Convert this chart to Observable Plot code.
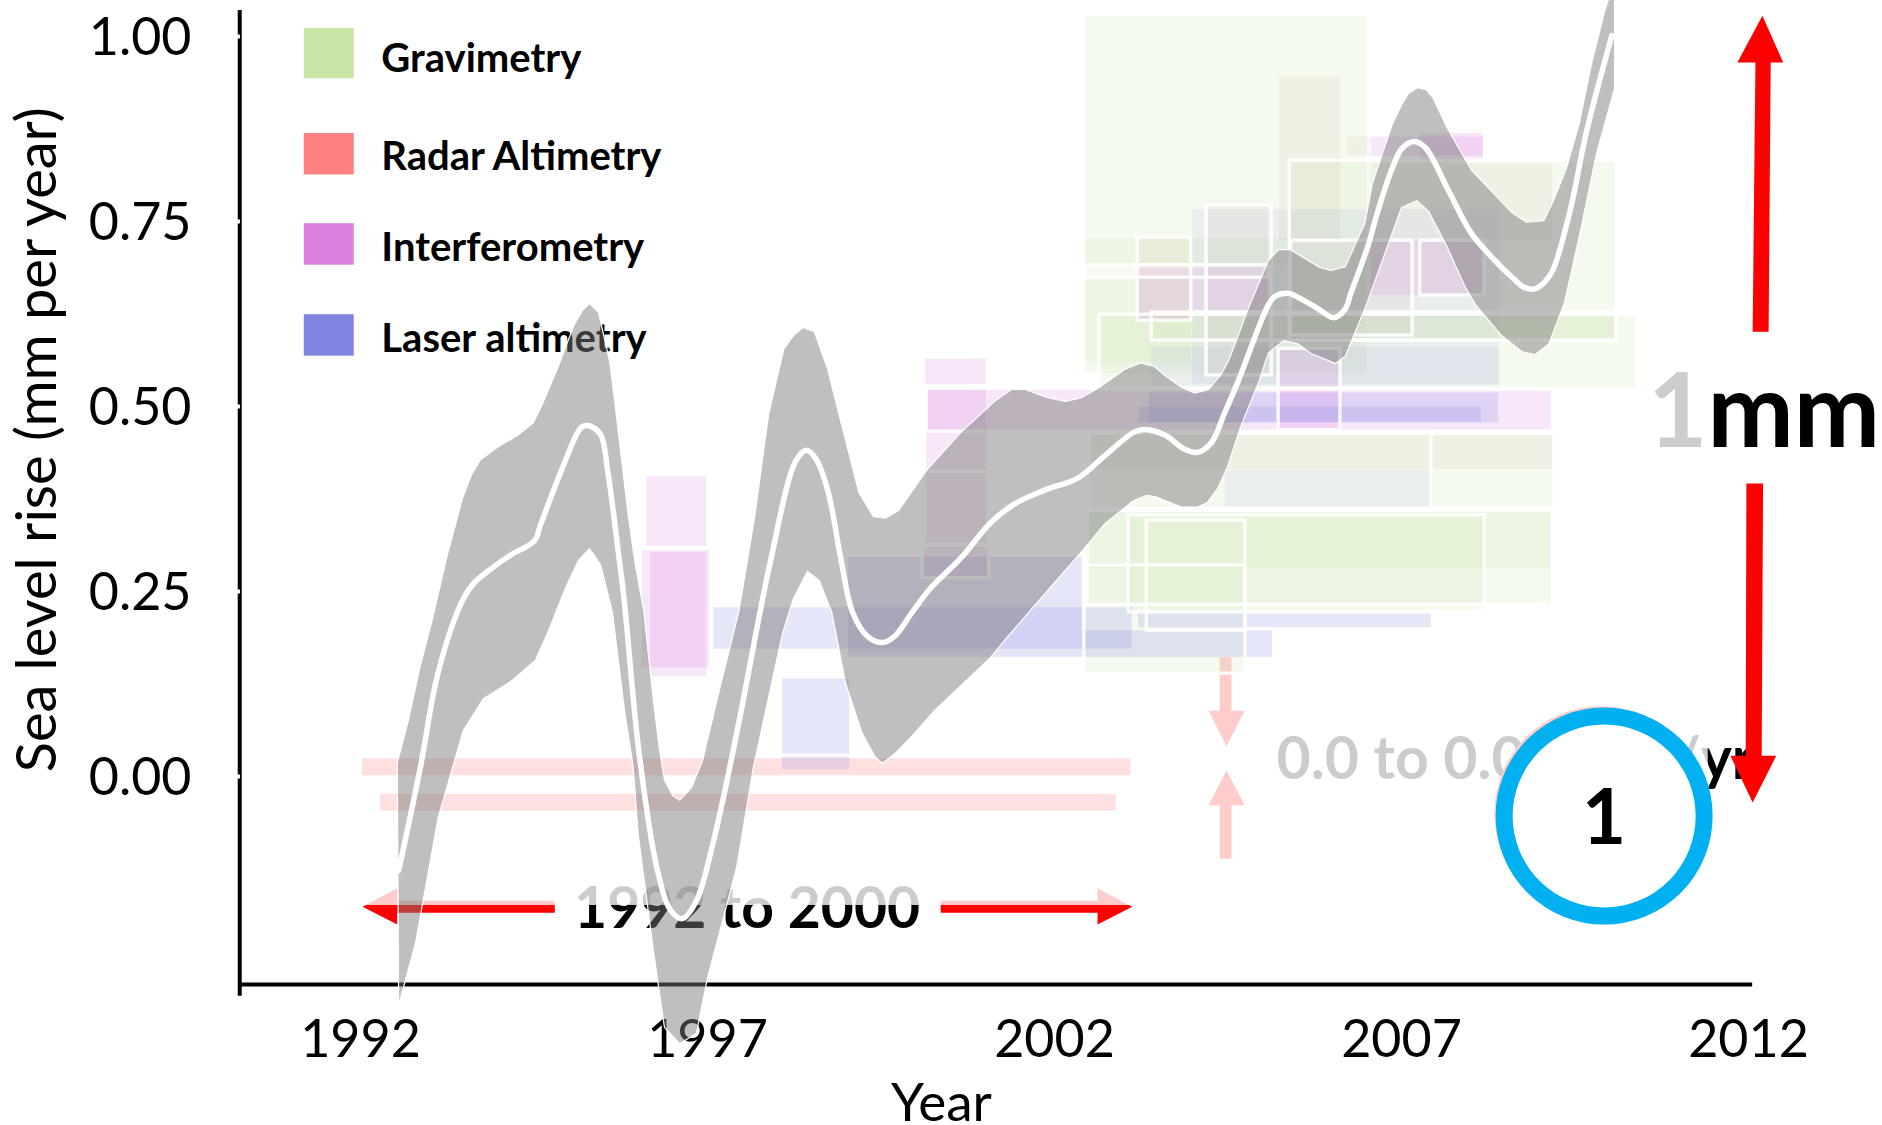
<!DOCTYPE html>
<html><head><meta charset="utf-8">
<script src="https://cdn.jsdelivr.net/npm/d3@7"></script>
<script src="https://cdn.jsdelivr.net/npm/@observablehq/plot@0.6"></script>
<style>html,body{margin:0;padding:0;background:#fff}svg{display:block}</style>
</head><body><div id="chart"></div>
<script>
const methods = ["Gravimetry","Radar Altimetry","Interferometry","Laser altimetry"];
const methodColors = ["#c8e6a5","#ff8080","#dc80e0","#8084e0"];
const xTicks = [1992,1997,2002,2007,2012];
const yTicks = [0,0.25,0.5,0.75,1];

// [year start, year end, top value, bottom value]
const gravimetry = [
 [2002.45,2006.50,1.027,.545],[2002.45,2005.40,.727,.691],[2002.45,2003.97,.672,.559],
 [2002.65,2010.40,.624,.523],[2003.40,2010.10,.627,.589],[2005.39,2010.10,.830,.589],
 [2002.48,2009.18,.359,.232],[2002.48,2009.18,.359,.281],[2003.07,2008.20,.353,.222],
 [2002.43,2004.75,.285,.139],[2002.48,2009.18,.461,.364]];
const radar = [
 [2002.53,2009.18,.461,.415],[2003.20,2003.97,.728,.616],[2004.22,2005.08,.772,.542],
 [2005.24,2006.12,.945,.724],[2006.57,2009.18,.828,.724],[2006.22,2006.57,.864,.838],
 [2007.27,2008.20,.724,.650],[2005.41,2007.16,.724,.596]];
const interferometry = [
 [2000.16,2009.18,.524,.466],[2000.14,2001.02,.564,.530],[2000.16,2001.02,.524,.414],
 [2000.16,2001.02,.409,.315],[2000.10,2001.06,.312,.268],[1996.12,1996.99,.405,.311],
 [1996.06,1997.03,.305,.147],[1996.18,1996.99,.303,.135],[2006.57,2008.18,.864,.838],
 [2007.27,2008.18,.869,.832],[2004.22,2005.08,.687,.630],[2003.99,2004.19,.687,.630],
 [2003.20,2003.97,.687,.616],[2005.23,2006.12,.578,.468],[2006.57,2008.18,.724,.650]];
const laser = [
 [1997.09,2003.12,.228,.172],[1999.03,2002.40,.296,.161],[2002.40,2005.14,.197,.161],
 [2003.21,2007.43,.220,.201],[1998.08,1999.05,.132,.030],[1998.08,1999.05,.026,.009],
 [2003.37,2008.40,.518,.478],[2003.22,2008.15,.499,.478]];
const laserFaint = [
 [2003.99,2008.41,.766,.530],[2004.46,2007.43,.414,.364],[2003.40,2008.41,.580,.527]];
const outlined = [
 [2002.45,2005.08,.691,.674],[2003.20,2003.97,.728,.616],[2004.19,2005.13,.772,.542],
 [2005.39,2010.10,.832,.589],[2003.40,2010.10,.627,.589],[2002.50,2007.43,.465,.359],
 [2003.07,2008.20,.353,.222],[2002.43,2004.75,.285,.139],[2003.33,2004.75,.346,.197],
 [2000.10,2001.06,.312,.268],[2002.65,2010.40,.624,.523],[2005.23,2006.12,.578,.468],
 [2007.27,2008.20,.724,.650],[2005.41,2007.16,.724,.596],[2000.16,2009.18,.524,.466],
 [2002.48,2009.18,.359,.232]];

const upperYears = [1992.53,1992.69,1992.86,1993.04,1993.24,1993.47,1993.60,1993.73,1993.99,1994.28,1994.49,1994.62,1994.85,1995.08,1995.20,1995.30,1995.43,1995.59,1995.69,1995.78,1995.86,1995.95,1996.08,1996.22,1996.31,1996.38,1996.50,1996.60,1996.77,1996.93,1997.19,1997.45,1997.68,1997.88,1998.10,1998.24,1998.38,1998.54,1998.73,1998.92,1999.18,1999.39,1999.56,1999.75,2000.16,2000.65,2001.15,2001.38,2001.58,2001.90,2002.16,2002.39,2002.65,2003.01,2003.24,2003.44,2003.59,2003.83,2004.02,2004.22,2004.39,2004.51,2004.80,2005.08,2005.23,2005.40,2005.82,2005.98,2006.19,2006.47,2006.58,2006.87,2007.01,2007.10,2007.23,2007.36,2007.46,2007.66,2008.01,2008.59,2008.80,2009.05,2009.18,2009.38,2009.56,2009.74,2009.93,2010.07];
const upperValues = [0.018,0.076,0.149,0.214,0.295,0.376,0.408,0.428,0.446,0.462,0.478,0.503,0.554,0.611,0.630,0.639,0.627,0.561,0.486,0.414,0.351,0.292,0.224,0.103,0.035,-0.005,-0.026,-0.032,-0.015,0.022,0.124,0.222,0.351,0.489,0.578,0.596,0.607,0.601,0.551,0.480,0.384,0.351,0.349,0.359,0.414,0.465,0.508,0.523,0.523,0.512,0.507,0.512,0.526,0.550,0.559,0.554,0.542,0.526,0.518,0.523,0.542,0.562,0.634,0.697,0.712,0.712,0.688,0.684,0.689,0.747,0.801,0.882,0.909,0.923,0.931,0.928,0.916,0.876,0.819,0.762,0.749,0.751,0.776,0.823,0.882,0.964,1.035,1.076];
const lowerYears = [1992.55,1992.79,1993.12,1993.48,1993.77,1994.19,1994.52,1994.71,1994.95,1995.14,1995.30,1995.46,1995.63,1995.80,1995.93,1996.00,1996.22,1996.38,1996.60,1996.84,1997.00,1997.42,1997.66,1998.08,1998.24,1998.44,1998.61,1998.79,1998.99,1999.23,1999.42,1999.52,1999.69,1999.95,2000.27,2000.62,2001.08,2001.28,2001.74,2002.40,2002.73,2003.14,2003.33,2003.46,2003.83,2004.06,2004.20,2004.35,2004.49,2004.68,2004.95,2005.08,2005.30,2005.50,2005.69,2006.05,2006.19,2006.48,2007.00,2007.22,2007.39,2007.66,2007.92,2008.07,2008.44,2008.74,2008.92,2009.12,2009.35,2009.59,2009.81,2010.07];
const lowerValues = [-0.309,-0.226,-0.055,0.062,0.105,0.130,0.157,0.197,0.254,0.292,0.308,0.286,0.222,0.092,0.012,-0.077,-0.235,-0.339,-0.361,-0.347,-0.272,-0.123,0.012,0.193,0.241,0.277,0.265,0.222,0.126,0.058,0.026,0.018,0.030,0.055,0.089,0.120,0.161,0.184,0.234,0.305,0.342,0.373,0.380,0.378,0.364,0.364,0.370,0.389,0.418,0.472,0.535,0.572,0.589,0.585,0.572,0.558,0.568,0.634,0.769,0.778,0.764,0.715,0.661,0.637,0.596,0.574,0.570,0.584,0.641,0.742,0.842,0.930];
const midYears = [1992.55,1992.86,1993.12,1993.47,1993.64,1993.90,1994.16,1994.51,1994.59,1994.85,1995.13,1995.20,1995.29,1995.46,1995.56,1995.73,1995.80,1996.01,1996.27,1996.47,1996.64,1996.84,1997.09,1997.42,1997.79,1997.91,1998.27,1998.43,1998.57,1998.74,1998.92,1999.09,1999.31,1999.52,1999.69,1999.95,2000.21,2000.65,2001.08,2001.42,2001.86,2002.33,2002.73,2003.14,2003.30,2003.60,2003.86,2004.06,2004.26,2004.45,2004.65,2005.08,2005.18,2005.37,2005.52,2005.80,2006.02,2006.19,2006.27,2006.51,2006.65,2006.87,2007.01,2007.19,2007.35,2007.66,2008.00,2008.24,2008.60,2008.77,2008.92,2009.06,2009.18,2009.42,2009.67,2010.03];
const midValues = [-0.127,0.011,0.141,0.238,0.262,0.282,0.299,0.319,0.339,0.403,0.465,0.473,0.474,0.462,0.414,0.292,0.238,0.035,-0.123,-0.181,-0.192,-0.168,-0.086,0.058,0.238,0.292,0.426,0.441,0.428,0.384,0.295,0.222,0.189,0.181,0.189,0.222,0.254,0.295,0.343,0.368,0.387,0.403,0.434,0.465,0.469,0.461,0.443,0.438,0.451,0.491,0.535,0.637,0.649,0.653,0.647,0.632,0.620,0.632,0.653,0.715,0.761,0.823,0.849,0.858,0.849,0.795,0.735,0.708,0.674,0.661,0.659,0.668,0.684,0.761,0.873,1.001];

const legendRows = [
 {name:methods[0],x1:1991.19,x2:1991.91,top:1.011,bottom:.943,text:.970},
 {name:methods[1],x1:1991.19,x2:1991.91,top:.869,bottom:.813,text:.837},
 {name:methods[2],x1:1991.19,x2:1991.91,top:.747,bottom:.691,text:.714},
 {name:methods[3],x1:1991.19,x2:1991.91,top:.624,bottom:.568,text:.591}];

// annotation shapes: [year, value] outlines
const arrowShapes = {
 spanLeft:[[1992.03,-.176],[1992.53,-.151],[1992.53,-.168],[1994.80,-.168],[1994.80,-.184],[1992.53,-.184],[1992.53,-.200]],
 spanRight:[[2000.36,-.168],[2002.62,-.168],[2002.62,-.151],[2003.12,-.176],[2002.62,-.200],[2002.62,-.184],[2000.36,-.184]],
 pinkDown:[[2004.38,.161],[2004.55,.161],[2004.55,.089],[2004.74,.089],[2004.48,.041],[2004.22,.089],[2004.38,.089]],
 pinkUp:[[2004.38,-.111],[2004.55,-.111],[2004.55,-.039],[2004.74,-.039],[2004.48,.008],[2004.22,-.039],[2004.38,-.039]]
};
const bigArrows = {
 up:[[2012.06,.601],[2012.29,.601],[2012.32,.965],[2012.50,.965],[2012.20,1.028],[2011.84,.965],[2012.10,.965]],
 down:[[2011.97,.396],[2012.21,.396],[2012.19,.028],[2012.40,.028],[2012.06,-.035],[2011.74,.028],[2011.96,.028]]
};
const spanBars = [[1992.03,2003.10,.024,.001],[1992.29,2002.89,-.024,-.047]];

const table = (rows, extra={}) => rows.map(r=>({x1:r[0],x2:r[1],top:r[2],bottom:r[3],...extra}));
const greenRows = table(gravimetry,{method:methods[0]});
const otherRows = [interferometry,laser].flatMap((rows,i)=>table(rows,{method:methods[i+2]}));
const faintRows = table(laserFaint,{method:methods[3]});
const polyRows = o => Object.entries(o).flatMap(([k,pts])=>pts.map(p=>({k,x:p[0],y:p[1]})));
const upperRows = upperYears.map((x,i)=>({x,y:upperValues[i]}));
const lowerRows = lowerYears.map((x,i)=>({x,y:lowerValues[i]})).reverse();
const bandRows = upperRows.concat(lowerRows);
const midRows = midYears.map((x,i)=>({x,y:midValues[i]}));

const F = "Lato, sans-serif";
const chart = Plot.plot({
  width:1882, height:1125, marginLeft:241, marginRight:130, marginTop:0, marginBottom:140,
  style:{background:"#fff",fontFamily:F},
  x:{domain:[1992,2012],range:[360,1748],axis:null},
  y:{domain:[0,1],range:[776,36],axis:null},
  color:{domain:methods,range:methodColors},
  marks:[
    // annotation layer beneath the veil
    Plot.text(["1992 to 2000"],{x:[1997.57],y:[-.18],text:d=>d,fontSize:57,fontWeight:700,fill:"#000",fontFamily:F}),
    Plot.text(["0.0 to 0.06 mm/yr"],{x:[2005.2],y:[.022],text:d=>d,fontSize:59,fontWeight:700,fill:"#000",textAnchor:"start",fontFamily:F}),
    Plot.text(["1mm"],{x:[2010.55],y:[.49],text:d=>d,fontSize:103,fontWeight:700,fill:"#000",textAnchor:"start",fontFamily:F}),
    Plot.rect(table(spanBars),{x1:"x1",x2:"x2",y1:"top",y2:"bottom",fill:"#ff0000",fillOpacity:.6}),
    Plot.line(polyRows(arrowShapes),{x:"x",y:"y",z:"k",fill:"#ff0000",stroke:"none",curve:"linear-closed"}),
    Plot.dot([{}],{x:()=>2009.88,y:()=>-.0495,r:107,fill:"#ff0000"}),
    // white veil
    Plot.rect([{}],{x1:()=>1991.0,x2:()=>2011.42,y1:()=>-.1743,y2:()=>1.05,fill:"#fff",fillOpacity:.8}),
    // big arrows and axes
    Plot.line(polyRows(bigArrows),{x:"x",y:"y",z:"k",fill:"#ff0000",stroke:"none",curve:"linear-closed"}),
    Plot.ruleX([1990.26],{y1:1.035,y2:-.297,stroke:"#000",strokeWidth:4}),
    Plot.ruleY([-.281],{x1:1990.26,x2:2012.06,stroke:"#000",strokeWidth:4}),
    Plot.ruleY(yTicks,{x1:1990.23,x2:1990.27,stroke:"#fff",strokeWidth:4}),
    Plot.axisX({ticks:xTicks,tickSize:0,tickPadding:35,tickFormat:d=>String(d),fontSize:52,label:null,fontFamily:F}),
    Plot.axisY({ticks:yTicks,tickSize:0,tickPadding:50,tickFormat:d=>d.toFixed(2),fontSize:52,label:null,fontFamily:F,dy:1.5}),
    Plot.text(["Year"],{x:[2000.37],y:[-.443],text:d=>d,fontSize:53,fill:"#000",fontFamily:F}),
    Plot.text(["Sea level rise (mm per year)"],{x:[1987.36],y:[.455],text:d=>d,fontSize:56,fill:"#000",rotate:-90,fontFamily:F}),
    // legend
    Plot.rect(legendRows,{x1:"x1",x2:"x2",y1:"top",y2:"bottom",fill:"name"}),
    Plot.text(legendRows,{x:()=>1992.30,y:"text",text:"name",textAnchor:"start",fontSize:40,fontWeight:700,fill:"#000",fontFamily:F}),
    // estimates
    Plot.rect(greenRows,{x1:"x1",x2:"x2",y1:"top",y2:"bottom",fill:"method",fillOpacity:.18}),
    Plot.rect(table(radar),{x1:"x1",x2:"x2",y1:"top",y2:"bottom",fill:"#b08878",fillOpacity:.08}),
    Plot.rect(faintRows,{x1:"x1",x2:"x2",y1:"top",y2:"bottom",fill:"method",fillOpacity:.09}),
    Plot.rect(otherRows,{x1:"x1",x2:"x2",y1:"top",y2:"bottom",fill:"method",fillOpacity:.2}),
    Plot.rect(table(outlined),{x1:"x1",x2:"x2",y1:"top",y2:"bottom",fill:"none",stroke:"#fff",strokeWidth:3.5,strokeOpacity:.85}),
    // uncertainty band and mean
    Plot.line(bandRows,{x:"x",y:"y",fill:"#797979",fillOpacity:.48,stroke:"#fff",strokeWidth:1.2,curve:"linear-closed"}),
    Plot.line(midRows,{x:"x",y:"y",stroke:"#fff",strokeWidth:5.5,curve:"catmull-rom"}),
    // badge
    Plot.dot([{}],{x:()=>2009.92,y:()=>-.0534,r:100,fill:"#fff",stroke:"#00b0f0",strokeWidth:17}),
    Plot.text(["1"],{x:[2009.92],y:[-.058],text:d=>d,fontSize:76,fontWeight:700,fill:"#000",fontFamily:F})
  ]
});
document.getElementById("chart").appendChild(chart);
</script></body></html>
